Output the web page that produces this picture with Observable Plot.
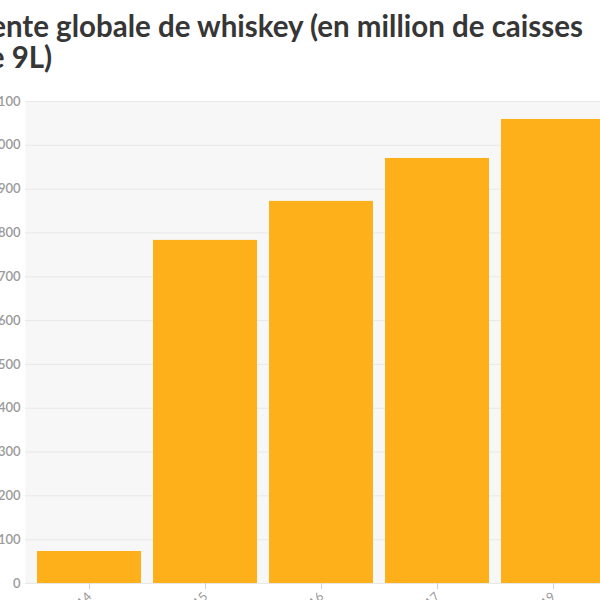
<!DOCTYPE html>
<html>
<head>
<meta charset="utf-8">
<script src="https://cdn.jsdelivr.net/npm/d3@7"></script>
<script src="https://cdn.jsdelivr.net/npm/@observablehq/plot@0.6"></script>
<style>
  html, body { margin: 0; padding: 0; background: #fff; }
  #wrap { position: relative; width: 600px; height: 600px; overflow: hidden; }
  #title { position: absolute; left: -28px; top: 10px; width: 700px;
    font-family: Lato, "Open Sans", sans-serif; font-weight: 700; font-size: 29.5px;
    line-height: 31px; color: #363636; white-space: nowrap; }
  #chart { position: absolute; left: -40px; top: 90px; width: 660px; }
  #chart svg { max-width: none !important; }
</style>
</head>
<body>
<div id="wrap">
  <div id="title">Vente globale de whiskey (en million de caisses<br>de 9L)</div>
  <div id="chart"></div>
</div>
<script>
const years = ["2014", "2015", "2016", "2017", "2019"];
const sales = [73, 783, 872, 970, 1059];
const yTicks = [0, 100, 200, 300, 400, 500, 600, 700, 800, 900, 1000, 1100];

const data = years.map((y, i) => ({year: y, value: sales[i]}));

const chart = Plot.plot({
  width: 660,
  height: 540,
  marginLeft: 65,
  marginRight: 3,
  marginTop: 11,
  marginBottom: 47,
  style: {fontFamily: "Lato, 'Open Sans', sans-serif", background: "transparent", maxWidth: "none"},
  x: {type: "band", domain: years, padding: 0.1, label: null},
  y: {domain: [0, 1100], label: null},
  marks: [
    Plot.frame({fill: "#f7f7f7", stroke: null}),
    Plot.gridY(yTicks, {stroke: "#e8e8e8", strokeOpacity: 1}),
    Plot.barY(data, {x: "year", y: "value", fill: "#fdb019"}),
    Plot.axisY(yTicks, {tickSize: 0, tickPadding: 5, fill: "#9a9a9a", fontSize: 13, fontWeight: 600, label: null}),
    Plot.axisX({tickRotate: -45, tickSize: 6, tickPadding: 5, stroke: "#d0d0d0", fill: "#9a9a9a", fontSize: 12.5, label: null})
  ]
});
document.getElementById("chart").appendChild(chart);
</script>
</body>
</html>
